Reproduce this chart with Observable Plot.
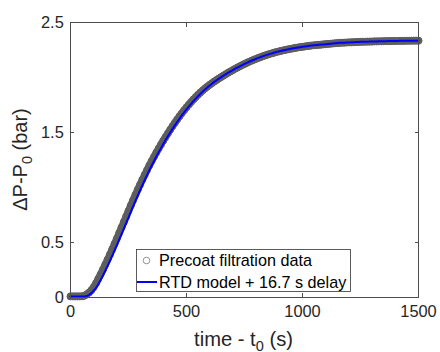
<!DOCTYPE html>
<html>
<head>
<meta charset="utf-8">
<script src="https://cdn.jsdelivr.net/npm/d3@7"></script>
<script src="https://cdn.jsdelivr.net/npm/@observablehq/plot@0.6"></script>
<style>
  html, body { margin: 0; padding: 0; background: #fff; overflow: hidden; }
</style>
</head>
<body>
<script>
// sample times (s)
const times = [
  0,10,20,30,40,50,60,70,80,90,
  100,110,120,130,140,150,160,170,180,190,
  200,210,220,230,240,250,260,270,280,290,
  300,310,320,330,340,350,360,370,380,390,
  400,410,420,430,440,450,460,470,480,490,
  500,510,520,530,540,550,560,570,580,590,
  600,610,620,630,640,650,660,670,680,690,
  700,710,720,730,740,750,760,770,780,790,
  800,810,820,830,840,850,860,870,880,890,
  900,910,920,930,940,950,960,970,980,990,
  1000,1010,1020,1030,1040,1050,1060,1070,1080,1090,
  1100,1110,1120,1130,1140,1150,1160,1170,1180,1190,
  1200,1210,1220,1230,1240,1250,1260,1270,1280,1290,
  1300,1310,1320,1330,1340,1350,1360,1370,1380,1390,
  1400,1410,1420,1430,1440,1450,1460,1470,1480,1490,
  1500
];
// Precoat filtration data, ΔP-P0 (bar)
const dataValues = [
  0.010,0.010,0.010,0.010,0.010,0.011,0.016,0.028,0.045,0.066,
  0.095,0.130,0.170,0.212,0.255,0.300,0.345,0.392,0.440,0.488,
  0.537,0.587,0.637,0.687,0.737,0.787,0.837,0.886,0.934,0.981,
  1.027,1.072,1.116,1.159,1.201,1.241,1.280,1.318,1.355,1.391,
  1.426,1.460,1.493,1.526,1.558,1.589,1.619,1.648,1.676,1.703,
  1.729,1.754,1.778,1.801,1.823,1.844,1.864,1.883,1.901,1.918,
  1.934,1.949,1.964,1.978,1.992,2.005,2.018,2.031,2.044,2.056,
  2.068,2.080,2.091,2.102,2.113,2.123,2.133,2.143,2.152,2.161,
  2.170,2.178,2.186,2.194,2.201,2.208,2.215,2.221,2.227,2.233,
  2.238,2.243,2.248,2.253,2.257,2.261,2.265,2.269,2.273,2.276,
  2.279,2.282,2.285,2.288,2.291,2.293,2.295,2.297,2.299,2.301,
  2.303,2.305,2.307,2.309,2.311,2.313,2.315,2.316,2.317,2.318,
  2.319,2.320,2.321,2.322,2.323,2.324,2.325,2.325,2.326,2.327,
  2.327,2.328,2.328,2.329,2.329,2.330,2.330,2.331,2.331,2.332,
  2.332,2.332,2.333,2.333,2.333,2.334,2.334,2.334,2.335,2.335,
  2.335
];
// RTD model + 16.7 s delay
const modelValues = [
  0.010,0.010,0.010,0.010,0.010,0.010,0.010,0.013,0.024,0.040,
  0.062,0.088,0.120,0.160,0.200,0.243,0.287,0.333,0.380,0.428,
  0.477,0.527,0.577,0.627,0.677,0.727,0.778,0.828,0.878,0.927,
  0.975,1.022,1.068,1.113,1.157,1.200,1.241,1.281,1.320,1.358,
  1.395,1.431,1.466,1.500,1.533,1.565,1.596,1.626,1.655,1.683,
  1.710,1.736,1.761,1.785,1.808,1.830,1.851,1.872,1.891,1.910,
  1.927,1.944,1.960,1.975,1.990,2.004,2.018,2.031,2.044,2.056,
  2.068,2.080,2.091,2.102,2.113,2.123,2.133,2.143,2.152,2.161,
  2.170,2.178,2.186,2.194,2.201,2.208,2.215,2.221,2.227,2.233,
  2.238,2.243,2.248,2.253,2.257,2.261,2.265,2.269,2.273,2.276,
  2.279,2.282,2.285,2.288,2.291,2.293,2.295,2.297,2.299,2.301,
  2.303,2.305,2.307,2.309,2.311,2.313,2.315,2.316,2.317,2.318,
  2.319,2.320,2.321,2.322,2.323,2.324,2.325,2.325,2.326,2.327,
  2.327,2.328,2.328,2.329,2.329,2.330,2.330,2.331,2.331,2.332,
  2.332,2.332,2.333,2.333,2.333,2.334,2.334,2.334,2.335,2.335,
  2.335
];
const xTicks = [0, 500, 1000, 1500];
const yTicks = [0, 0.5, 1.5, 2.5];
const legendLabels = ["Precoat filtration data", "RTD model + 16.7 s delay"];

const dataRows = times.map((t, i) => ({t, v: dataValues[i]}));
const modelRows = times.map((t, i) => ({t, v: modelValues[i]}));

const FONT = "'Liberation Sans', Arial, Helvetica, sans-serif";
const GRAY = "#5e5e5e";

const chart = Plot.plot({
  width: 440,
  height: 352,
  marginLeft: 70,
  marginRight: 22,
  marginTop: 22,
  marginBottom: 55,
  x: {domain: [0, 1500]},
  y: {domain: [0, 2.5]},
  style: {fontFamily: FONT, fontSize: "16.4px", color: "#262626", background: "#fff"},
  marks: [
    Plot.line(dataRows, {x: "t", y: "v", stroke: GRAY, strokeWidth: 7.2}),
    Plot.dot(dataRows, {x: "t", y: "v", r: 3.5, stroke: GRAY, strokeWidth: 1, fill: "none"}),
    Plot.line(modelRows, {x: "t", y: "v", stroke: "#0000ff", strokeWidth: 2}),
    Plot.frame({stroke: "#4d4d4d", strokeWidth: 1}),
    Plot.axisX(xTicks, {anchor: "bottom", tickSize: -4, tickPadding: 12, tickFormat: d => String(d), label: null, stroke: "#4d4d4d"}),
    Plot.axisX(xTicks, {anchor: "top", tickSize: -4, tickFormat: () => "", label: null, stroke: "#4d4d4d"}),
    Plot.axisY(yTicks, {anchor: "left", tickSize: -4, tickPadding: 10.7, tickFormat: d => String(d), label: null, stroke: "#4d4d4d"}),
    Plot.axisY(yTicks, {anchor: "right", tickSize: -4, tickFormat: () => "", label: null, stroke: "#4d4d4d"})
  ]
});

const svg = d3.select(chart);

// x-axis label: time - t0 (s)
const xl = svg.append("text")
  .attr("x", 243.5).attr("y", 345.5)
  .attr("text-anchor", "middle")
  .attr("font-family", FONT).attr("font-size", "20.2px").attr("fill", "#262626");
xl.append("tspan").text("time - t");
xl.append("tspan").attr("font-size", "14.5px").attr("dy", 5).text("0");
xl.append("tspan").attr("dy", -5).text(" (s)");

// y-axis label: ΔP-P0 (bar)
const yl = svg.append("text")
  .attr("transform", "translate(27,159.5) rotate(-90)")
  .attr("text-anchor", "middle")
  .attr("font-family", FONT).attr("font-size", "20px").attr("fill", "#262626");
yl.append("tspan").text("\u0394P-P");
yl.append("tspan").attr("font-size", "14.5px").attr("dy", 5).text("0");
yl.append("tspan").attr("dy", -5).text(" (bar)");

// legend
const lg = svg.append("g")
  .attr("font-family", FONT).attr("font-size", "16.2px").attr("fill", "#000")
  .attr("text-anchor", "start");
lg.append("rect").attr("x", 136.5).attr("y", 249.5).attr("width", 214).attr("height", 42)
  .attr("fill", "#fff").attr("stroke", "#333").attr("stroke-width", 0.8);
lg.append("circle").attr("cx", 146.5).attr("cy", 260.5).attr("r", 3.3)
  .attr("fill", "none").attr("stroke", "#888").attr("stroke-width", 0.9);
lg.append("line").attr("x1", 137).attr("x2", 157).attr("y1", 282).attr("y2", 282)
  .attr("stroke", "#0000ff").attr("stroke-width", 2);
lg.append("text").attr("x", 159).attr("y", 266.3).attr("text-anchor", "start").text(legendLabels[0]);
lg.append("text").attr("x", 159).attr("y", 288).attr("text-anchor", "start").text(legendLabels[1]);

document.body.appendChild(chart);
</script>
</body>
</html>
